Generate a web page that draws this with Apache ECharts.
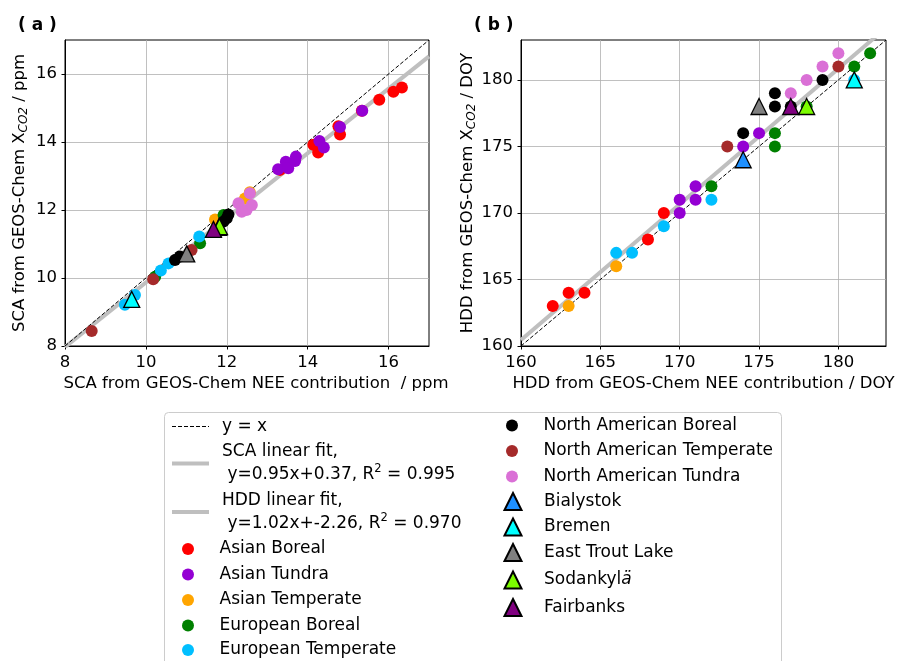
<!DOCTYPE html>
<html><head><meta charset="utf-8">
<script src="https://cdn.jsdelivr.net/npm/echarts@6/dist/echarts.min.js"></script>
<style>html,body{margin:0;padding:0;background:#fff}#c{width:904px;height:661px}</style>
</head><body><div id="c"></div>
<script>
// ---------------- DATA ----------------
const regionNames = ['Asian Boreal','Asian Tundra','Asian Temperate','European Boreal','European Temperate',
  'North American Boreal','North American Temperate','North American Tundra'];
const stationNames = ['Bialystok','Bremen','East Trout Lake','Sodankylä','Fairbanks'];

// Panel (a): SCA [NEE contribution, XCO2] in ppm
const scaAsianBoreal = [[13.32,13.18],[14.14,13.92],[14.26,13.69],[14.76,14.46],[14.80,14.22],[15.34,14.92],[15.77,15.24],[16.12,15.48],[16.33,15.60]];
const scaAsianTundra = [[13.27,13.20],[13.46,13.42],[13.52,13.23],[13.69,13.44],[13.71,13.57],[14.29,14.03],[14.40,13.84],[14.80,14.44],[15.35,14.92]];
const scaAsianTemperate = [[11.71,11.72],[12.45,12.34],[12.57,12.52]];
const scaEuropeanBoreal = [[10.23,10.04],[11.34,11.02],[11.92,11.85],[11.95,11.80]];
const scaEuropeanTemperate = [[9.48,9.21],[9.73,9.50],[10.37,10.22],[10.56,10.43],[11.32,11.22]];
const scaNABoreal = [[10.72,10.53],[10.84,10.63],[11.79,11.36],[11.92,11.66],[12.00,11.76],[12.04,11.87]];
const scaNATemperate = [[8.66,8.44],[10.18,9.96],[11.13,10.82]];
const scaNATundra = [[12.29,12.20],[12.37,11.95],[12.49,12.00],[12.57,12.49],[12.62,12.15]];
const scaStations = [[11.80,11.49],[9.65,9.37],[11.01,10.71],[11.82,11.51],[11.67,11.43]];

// Panel (b): HDD [NEE contribution, XCO2] in DOY
const hddAsianBoreal = [[162,163],[163,164],[164,164],[168,168],[169,170]];
const hddAsianTundra = [[170,170],[170,171],[171,171],[171,172],[174,175],[175,176]];
const hddAsianTemperate = [[163,163],[166,166]];
const hddEuropeanBoreal = [[172,172],[176,175],[176,176],[178,178],[181,181],[182,182]];
const hddEuropeanTemperate = [[166,167],[167,167],[169,169],[172,171],[181,180]];
const hddNABoreal = [[174,176],[176,178],[176,179],[177,178],[179,180]];
const hddNATemperate = [[173,175],[180,181]];
const hddNATundra = [[177,179],[178,180],[179,181],[180,182]];
const hddStations = [[174,174],[181,180],[175,178],[178,178],[177,178]];

// Fits [slope, intercept] as drawn, and their legend labels
const scaFitCoef = [0.95, 0.37];
const hddFitCoef = [1.02, -2.75];
const lineNames = ['y = x', 'SCA linear fit', 'HDD linear fit'];
const fitLabelLines = {
  'SCA linear fit': ['SCA linear fit,', ' y=0.95x+0.37, R', '2', ' = 0.995'],
  'HDD linear fit': ['HDD linear fit,', ' y=1.02x+-2.26, R', '2', ' = 0.970']
};

// Axes
const scaRange = [8, 17];
const hddRange = [160, 183];
const scaTicks = [8, 10, 12, 14, 16];
const hddTicks = [160, 165, 170, 175, 180];

// ---------------- STYLE ----------------
const regionColors = ['#ff0000','#9400d3','#ffa500','#008000','#00bfff','#000000','#a52a2a','#da70d6'];
const stationColors = ['#1e90ff','#00ffff','#808080','#7cfc00','#800080'];
const FS = 16.5;
const LFS = 17;
const FONT = 'DejaVu Sans';

const scaRegions = [scaAsianBoreal, scaAsianTundra, scaAsianTemperate, scaEuropeanBoreal, scaEuropeanTemperate, scaNABoreal, scaNATemperate, scaNATundra];
const hddRegions = [hddAsianBoreal, hddAsianTundra, hddAsianTemperate, hddEuropeanBoreal, hddEuropeanTemperate, hddNABoreal, hddNATemperate, hddNATundra];

function fitLine(coef, range) {
  return range.map(x => [x, coef[0] * x + coef[1]]);
}

const series = [];
[[0, scaRange, scaFitCoef, 'SCA linear fit'], [1, hddRange, hddFitCoef, 'HDD linear fit']].forEach(([gi, range, coef, fname]) => {
  series.push({
    type: 'line', name: fname, xAxisIndex: gi, yAxisIndex: gi, data: fitLine(coef, range),
    symbol: 'none', showSymbol: false, z: 1, silent: true, animation: false,
    itemStyle: { color: 'rgba(0,0,0,0)', borderWidth: 0 },
    lineStyle: { color: '#bfbfbf', width: 4 }
  });
  series.push({
    type: 'line', name: 'y = x', xAxisIndex: gi, yAxisIndex: gi, data: range.map(v => [v, v]),
    symbol: 'none', showSymbol: false, z: 1, silent: true, animation: false,
    itemStyle: { color: 'rgba(0,0,0,0)', borderWidth: 0 },
    lineStyle: { color: '#000', width: 1, type: [4, 2] }
  });
});
[[0, scaRegions, scaStations], [1, hddRegions, hddStations]].forEach(([gi, regs, stations]) => {
  regs.forEach((d, i) => {
    series.push({
      type: 'scatter', name: regionNames[i], xAxisIndex: gi, yAxisIndex: gi, data: d,
      symbol: 'circle', symbolSize: 12, z: 2, animation: false,
      itemStyle: { color: regionColors[i], opacity: 1 }
    });
  });
  stations.forEach((p, i) => {
    series.push({
      type: 'scatter', name: stationNames[i], xAxisIndex: gi, yAxisIndex: gi, data: [p],
      symbol: 'triangle', symbolSize: 16, z: 3, animation: false,
      itemStyle: { color: stationColors[i], borderColor: '#000', borderWidth: 1.3, opacity: 1 }
    });
  });
});

function makeAxis(gi, range, ticks, name, isY, nameGap, namePad) {
  return {
    type: 'value', gridIndex: gi, min: range[0], max: range[1], interval: ticks[1] - ticks[0],
    name: name, nameLocation: 'middle', nameGap: nameGap,
    nameTextStyle: {
      fontSize: FS, color: '#000', fontFamily: FONT, lineHeight: 20, padding: namePad,
      rich: { i: { fontSize: 12, fontStyle: 'italic', fontFamily: FONT, color: '#000', verticalAlign: 'bottom', lineHeight: 13 } }
    },
    axisLine: { show: true, onZero: false, lineStyle: { color: '#000', width: 1 } },
    axisTick: { show: true, length: 3.5, inside: false, customValues: ticks, lineStyle: { color: '#000', width: 1 } },
    axisLabel: { fontSize: FS, color: '#000', fontFamily: FONT, margin: 8, customValues: ticks, hideOverlap: false },
    splitLine: { show: true, lineStyle: { color: '#b0b0b0', width: 0.8 } }
  };
}

function legendFormatter(name) {
  if (fitLabelLines[name]) {
    const p = fitLabelLines[name];
    return '{t|' + p[0] + '}\n{t|' + p[1] + '}{s|' + p[2] + '}{t|' + p[3] + '}';
  }
  if (name === 'Sodankylä') return '{t|Sodankyl}{it|ä}';
  return name;
}
const legendRich = {
  t: { fontSize: LFS, fontFamily: FONT, color: '#000', lineHeight: 23 },
  s: { fontSize: 11.5, fontFamily: FONT, color: '#000', lineHeight: 17, verticalAlign: 'top' },
  it: { fontSize: LFS, fontFamily: FONT, color: '#000', fontStyle: 'italic', lineHeight: 27 }
};
function legendCfg(left, top, data, itemWidth, itemHeight, textPad) {
  return {
    orient: 'vertical', left: left, top: top, padding: 0, itemGap: 2.5,
    itemWidth: itemWidth, itemHeight: itemHeight, selectedMode: false, data: data,
    formatter: legendFormatter,
    lineStyle: { width: 'inherit' },
    textStyle: { fontSize: LFS, fontFamily: FONT, color: '#000', lineHeight: 23, padding: [0, 0, 0, textPad], rich: legendRich }
  };
}

const option = {
  animation: false,
  backgroundColor: '#fff',
  textStyle: { fontFamily: FONT },
  title: [
    { text: '( a )', left: 18, top: 17, padding: 0, textStyle: { fontSize: 17, fontWeight: 'bold', color: '#000', fontFamily: FONT } },
    { text: '( b )', left: 474, top: 17, padding: 0, textStyle: { fontSize: 17, fontWeight: 'bold', color: '#000', fontFamily: FONT } }
  ],
  grid: [
    { left: 65, top: 40, width: 364, height: 306, show: true, borderColor: '#000', borderWidth: 1, backgroundColor: 'transparent' },
    { left: 521, top: 40, width: 365, height: 306, show: true, borderColor: '#000', borderWidth: 1, backgroundColor: 'transparent' }
  ],
  xAxis: [
    makeAxis(0, scaRange, scaTicks, 'SCA from GEOS-Chem NEE contribution  / ppm', false, 28, [0, 0, 0, 18]),
    makeAxis(1, hddRange, hddTicks, 'HDD from GEOS-Chem NEE contribution / DOY', false, 28, 0)
  ],
  yAxis: [
    makeAxis(0, scaRange, scaTicks, 'SCA from GEOS-Chem X{i|CO2} / ppm', true, 35, 0),
    makeAxis(1, hddRange, hddTicks, 'HDD from GEOS-Chem X{i|CO2} / DOY', true, 35, 0)
  ],
  legend: [
    legendCfg(170, 415, lineNames, 37, 12, 8),
    legendCfg(182, 537.5, regionNames.slice(0, 4), 37, 12, 8),
    legendCfg(182, 638.5, regionNames.slice(4, 5), 37, 12, 8),
    legendCfg(506, 414, regionNames.slice(5), 37, 12, 8),
    legendCfg(503.5, 490, stationNames, 17, 17, 17.5)
  ],
  graphic: [{
    type: 'rect', z: 0, silent: true,
    shape: { x: 164.5, y: 412.5, width: 617, height: 270, r: 4 },
    style: { fill: 'rgba(255,255,255,0.8)', stroke: '#cccccc', lineWidth: 1 }
  }],
  series: series
};

const chart = echarts.init(document.getElementById('c'), null, { renderer: 'canvas' });
chart.setOption(option);
</script>
</body></html>
